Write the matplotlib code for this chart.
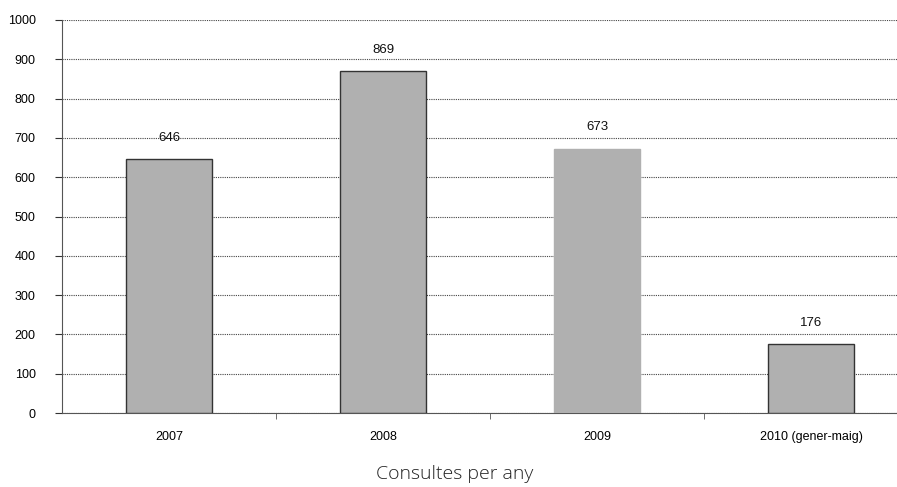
import matplotlib
matplotlib.use("Agg")
import matplotlib.pyplot as plt

categories = ["2007", "2008", "2009", "2010 (gener-maig)"]
values = [646, 869, 673, 176]
edge_colors = ["#333333", "#333333", "#b0b0b0", "#333333"]
yticks = [0, 100, 200, 300, 400, 500, 600, 700, 800, 900, 1000]

fig = plt.figure(figsize=(8.97, 4.87), dpi=100)
ax = fig.add_axes([62/897, (487-413)/487, 856/897, (413-20)/487])

x = list(range(len(categories)))
ax.bar(x, values, width=0.4, color="#b0b0b0", edgecolor=edge_colors, linewidth=1.0, zorder=3)
for xi, v in zip(x, values):
    ax.annotate(str(v), (xi, v), xytext=(0, 11), textcoords="offset points",
                ha="center", va="bottom", fontsize=9.5, family="Liberation Sans", color="#111111")

ax.set_xlim(-0.5, 3.5)
ax.set_ylim(0, 1000)
ax.set_yticks(yticks)
ax.set_yticklabels([str(t) for t in yticks], fontsize=9, family="Liberation Sans")
ax.set_xticks(x)
ax.set_xticklabels(categories, fontsize=9, family="Liberation Sans")
ax.tick_params(axis="x", length=0, pad=13)
ax.set_xticks([0.5, 1.5, 2.5], minor=True)
ax.tick_params(axis="x", which="minor", length=4, direction="out", color="#555555")
ax.tick_params(axis="y", length=5, direction="out", color="#333333", pad=14)

ax.yaxis.grid(True, linestyle=(0, (1, 1)), color="#444444", linewidth=0.8, zorder=0)
for s in ["top", "right"]:
    ax.spines[s].set_visible(False)
ax.spines["left"].set_color("#555555")
ax.spines["bottom"].set_color("#555555")

fig.text(455/897, 1 - 474/487, "Consultes per any", ha="center", va="center",
         fontsize=14, family="Open Sans", fontweight=300, color="#222222")

fig.savefig("out.png", dpi=100)
